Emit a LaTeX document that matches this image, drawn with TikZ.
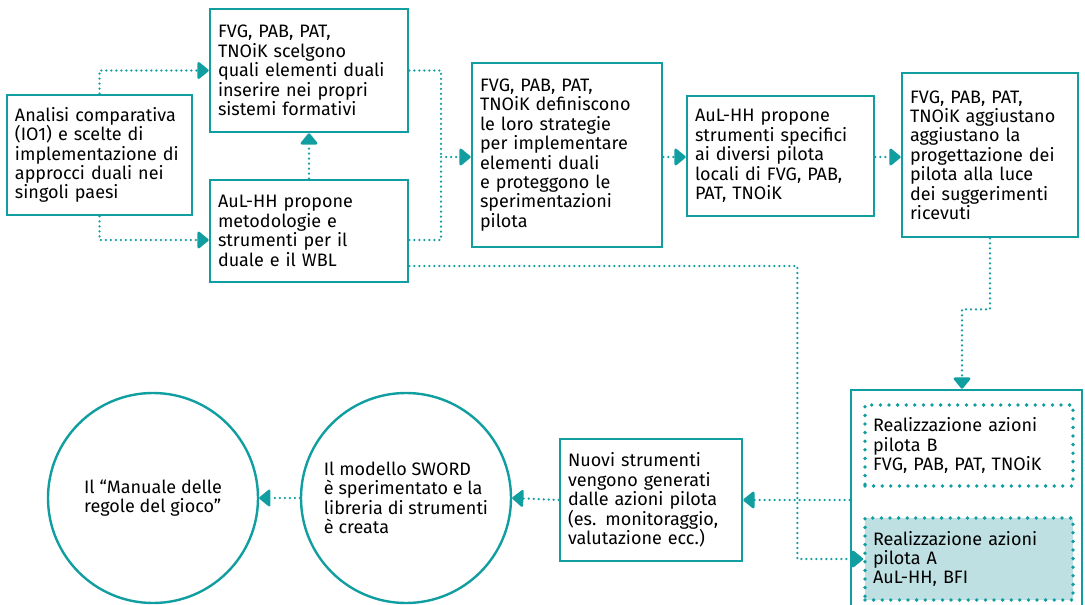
\documentclass[tikz,border=0pt]{standalone}
\usepackage{fontspec}
\setmainfont{Fira Sans}
\usetikzlibrary{arrows.meta}
\usetikzlibrary{positioning}

\definecolor{sword}{RGB}{16,158,161}
\definecolor{swordlight}{RGB}{190,224,227}

\tikzset{
  box/.style={draw=sword, line width=2.6pt, align=left, inner xsep=8pt,
    font=\fontsize{18}{19.4}\selectfont},
  roundbox/.style={draw=sword, line width=2.4pt, circle, minimum size=210pt,
    align=left, font=\fontsize{18}{19.4}\selectfont},
  pilotbox/.style={draw=sword, line width=3.8pt, line cap=round,
    dash pattern=on 0pt off 8.6pt, align=left, inner xsep=8pt,
    font=\fontsize{18}{19.4}\selectfont},
  flow/.style={draw=sword, line width=2.5pt, line cap=round,
    dash pattern=on 0pt off 5pt},
  flowarr/.style={flow, -{Triangle[length=12pt,width=19pt,round=false]}},
}

\begin{document}
\begin{tikzpicture}[x=1pt,y=-1pt]
\useasboundingbox (0,0) rectangle (1085,605);
\clip (0,0) rectangle (1085,605);

% top row
\node[box, text width=169pt, minimum height=120pt] (analisi) at (99.5,155)
  {Analisi comparativa\\(IO1) e scelte di\\implementazione di\\approcci duali nei\\singoli paesi};
\node[box, text width=182pt, minimum height=123pt] (scelgono) at (309,70.5)
  {FVG, PAB, PAT,\\TNOiK scelgono\\quali elementi duali\\inserire nei propri\\sistemi formativi};
\node[box, text width=182pt, minimum height=102pt] (wbl) at (309,231)
  {AuL-HH propone\\metodologie e\\strumenti per il\\duale e il WBL};
\node[box, text width=174pt, minimum height=184pt] (strategie) at (567,155)
  {FVG, PAB, PAT,\\TNOiK definiscono\\le loro strategie\\per implementare\\elementi duali\\e proteggono le\\sperimentazioni\\pilota};
\node[box, text width=171pt, minimum height=120pt] (specifici) at (780.5,156)
  {AuL-HH propone\\strumenti specifici\\ai diversi pilota\\locali di FVG, PAB,\\PAT, TNOiK};
\node[box, text width=160pt, minimum height=164pt] (aggiustano) at (990,155)
  {FVG, PAB, PAT,\\TNOiK aggiustano\\aggiustano la\\progettazione dei\\pilota alla luce\\dei suggerimenti\\ricevuti};

% pilot actions
\node[box, minimum width=231pt, minimum height=240pt] (pilota) at (966.5,510) {};
\node[pilotbox, text width=192pt, minimum height=81pt] (pilotB) at (969,445.5)
  {Realizzazione azioni\\pilota B\\FVG, PAB, PAT, TNOiK};
\node[pilotbox, fill=swordlight, text width=192pt, minimum height=82pt] (pilotA) at (969,559)
  {Realizzazione azioni\\pilota A\\AuL-HH, BFI};

% bottom row
\node[box, text width=166pt, minimum height=122pt] (nuovi) at (651,500)
  {Nuovi strumenti\\vengono generati\\dalle azioni pilota\\(es. monitoraggio,\\valutazione ecc.)};
\node[roundbox] (modello) at (406,498)
  {Il modello SWORD\\è sperimentato e la\\libreria di strumenti\\è creata};
\node[roundbox] (manuale) at (153,498)
  {Il “Manuale delle\\regole del gioco”};

% connectors
\draw[flowarr] (analisi.north) |- (scelgono.west);
\draw[flowarr] (analisi.south) |- ([yshift=-9pt]wbl.west);
\draw[flowarr] (wbl.north) -- (scelgono.south);
\coordinate (merge) at (441,157);
\draw[flow] (scelgono.east) -| (merge);
\draw[flow] ([yshift=-9pt]wbl.east) -| (merge);
\draw[flowarr] (merge) -- (strategie.west |- merge);
\draw[flowarr] (strategie.east |- merge) -- (specifici.west |- merge);
\draw[flowarr] (specifici.east |- merge) -- (aggiustano.west |- merge);
\draw[flowarr] (aggiustano.south) -- ++(0,71) -| ([xshift=-4.5pt]pilota.north);
\draw[flowarr] ([yshift=-35pt]wbl.east) -- ++(388,0) |- (pilotA.west);
\draw[flowarr] (pilota.west |- nuovi.east) -- (nuovi.east);
\draw[flowarr] (nuovi.west) -- (modello.east);
\draw[flowarr] (modello.west) -- (manuale.east);
\end{tikzpicture}
\end{document}
